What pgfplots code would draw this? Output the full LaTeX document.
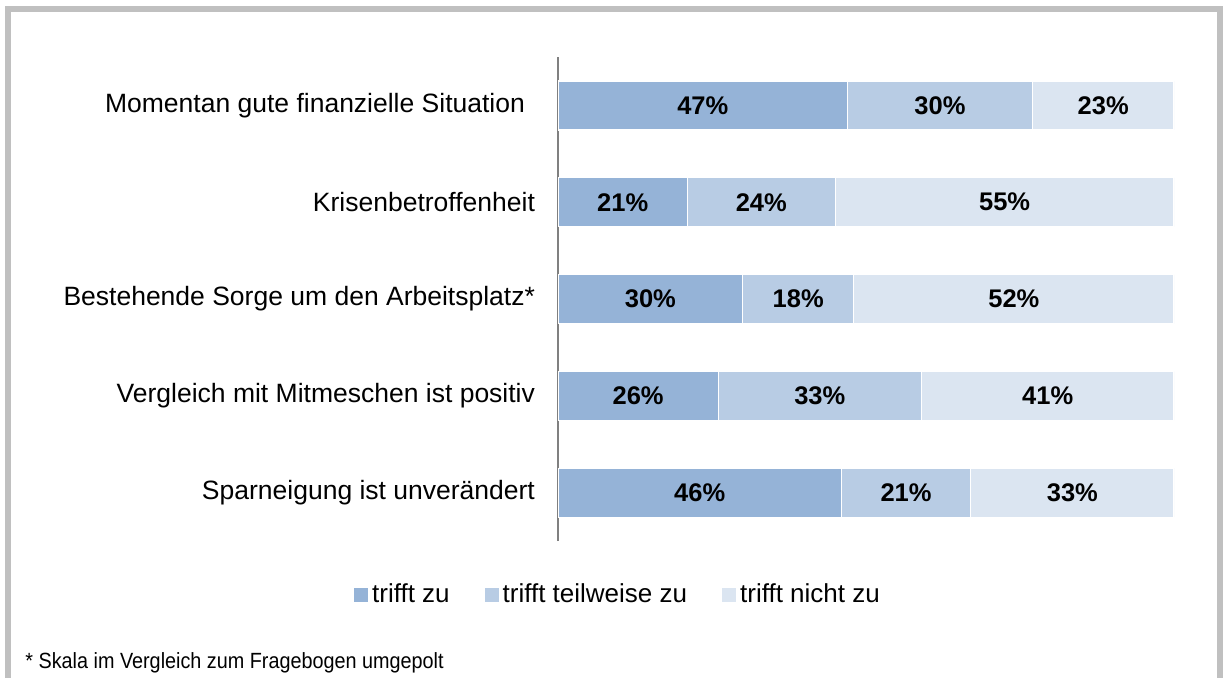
\documentclass[border=0pt]{standalone}
\usepackage{fontspec}
\setmainfont{Liberation Sans}
\newfontfamily\fussfont[FakeStretch=0.9]{Liberation Sans}
\usepackage{pgfplots}
\pgfplotsset{compat=1.18}
\definecolor{zu}{RGB}{149,179,215}
\definecolor{teil}{RGB}{184,204,228}
\definecolor{nicht}{RGB}{219,229,241}
\definecolor{rahmen}{RGB}{192,192,192}
\definecolor{achse}{RGB}{128,128,128}

% Anteile je Aussage (y=5 oben)
\pgfplotstableread{
y zu teil nicht
5 47 30 23
4 21 24 55
3 30 18 52
2 26 33 41
1 46 21 33
}\anteile

% Mitte jedes Segments fuer die Beschriftung
\pgfplotstableread{
x y v
23.5 5 47
62.0 5 30
88.5 5 23
10.5 4 21
33.0 4 24
72.5 4 55
15.0 3 30
39.0 3 18
74.0 3 52
13.0 2 26
42.5 2 33
79.5 2 41
23.0 1 46
56.5 1 21
83.5 1 33
}\beschriftung

\pgfplotsset{
  gemeinsam/.style={
    scale only axis, width=308pt, height=242pt,
    at={(279pt,-270.5pt)}, anchor=south west,
    xmin=0, xmax=100, ymin=0.5, ymax=5.5,
  }
}

\begin{document}
\begin{tikzpicture}
\useasboundingbox (0,0) rectangle (614.5pt,-339pt);
\draw[rahmen, line width=3pt] (4pt,-345pt) -- (4pt,-4.5pt) -- (610pt,-4.5pt) -- (610pt,-345pt);

\begin{axis}[
  gemeinsam,
  xbar stacked, bar width=24.5pt,
  axis x line=none, axis y line=left,
  axis line style={-, achse, line width=1pt},
  ytick={1,2,3,4,5},
  yticklabels={Sparneigung ist unver\"andert,
               Vergleich mit Mitmeschen ist positiv,
               Bestehende Sorge um den Arbeitsplatz*,
               Krisenbetroffenheit,
               Momentan gute finanzielle Situation\kern5pt},
  major tick length=0pt,
  yticklabel style={font=\fontsize{13.25pt}{15pt}\selectfont, anchor=east, xshift=-8pt},
  legend columns=3,
  legend style={at={(0.099,-0.1116)}, anchor=center, draw=none, fill=none,
    font=\fontsize{13pt}{15pt}\selectfont,
    /tikz/every even column/.append style={column sep=15.5pt}},
  legend image code/.code={\fill[#1, draw=none] (0pt,-3.5pt) rectangle (7pt,3.5pt);},
]
\addplot[fill=zu, draw=white, line width=0.6pt] table[x=zu, y=y] {\anteile};
\addplot[fill=teil, draw=white, line width=0.6pt] table[x=teil, y=y] {\anteile};
\addplot[fill=nicht, draw=white, line width=0.6pt] table[x=nicht, y=y] {\anteile};
\legend{trifft zu, trifft teilweise zu, trifft nicht zu}
\end{axis}

\begin{axis}[gemeinsam, hide axis, clip=false]
\addplot[draw=none, mark=none, point meta=explicit symbolic,
  nodes near coords={\pgfplotspointmeta\%},
  nodes near coords align=center,
  every node near coord/.append style={anchor=center, font=\bfseries\fontsize{12.75pt}{15pt}\selectfont}]
  table[x=x, y=y, meta=v] {\beschriftung};
\end{axis}

\node[anchor=base west, inner sep=0pt, font=\fussfont\fontsize{11pt}{13pt}\selectfont] at (12.5pt,-334pt)
  {* Skala im Vergleich zum Fragebogen umgepolt};
\end{tikzpicture}
\end{document}
